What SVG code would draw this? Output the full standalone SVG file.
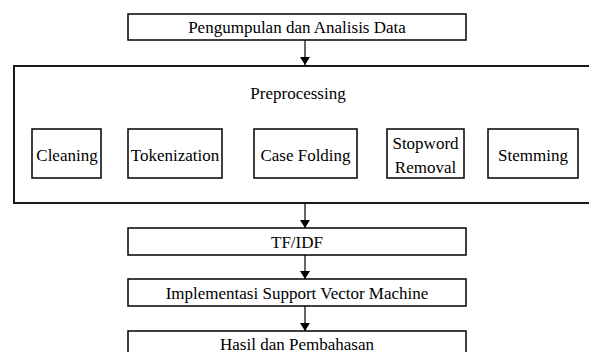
<svg xmlns="http://www.w3.org/2000/svg" width="589" height="352" viewBox="0 0 589 352">
<style>
.box{fill:#fff;stroke:#000;stroke-width:1.5}
.outer{fill:#fff;stroke:#1a1a1a;stroke-width:2}
text{font-family:"Liberation Serif","Times New Roman",serif;font-size:17px;fill:#000;text-anchor:middle}
.conn{stroke:#000;stroke-width:1.2;fill:none}
</style>
<defs>
<marker id="ah" viewBox="0 0 8 10" refX="8" refY="5" markerWidth="8" markerHeight="10" markerUnits="userSpaceOnUse" orient="auto-start-reverse">
<path d="M0,0 L8,5 L0,10 Z" fill="#000"/>
</marker>
</defs>
<rect width="589" height="352" fill="#fff"/>
<g id="pengumpulan">
<rect class="box" x="128" y="14" width="338" height="26"/>
<text x="297" y="33">Pengumpulan dan Analisis Data</text>
</g>
<g id="preprocessing">
<rect class="outer" x="14" y="66" width="590" height="137"/>
<text x="298" y="99">Preprocessing</text>
</g>
<g id="cleaning">
<rect class="box" x="32" y="129" width="69" height="49"/>
<text x="67" y="161">Cleaning</text>
</g>
<g id="tokenization">
<rect class="box" x="128" y="129" width="94" height="49"/>
<text x="175" y="161">Tokenization</text>
</g>
<g id="casefolding">
<rect class="box" x="254" y="129" width="103" height="49"/>
<text x="305.5" y="161">Case Folding</text>
</g>
<g id="stopword">
<rect class="box" x="387" y="129" width="77" height="49"/>
<text x="425.5" y="149">Stopword</text>
<text x="425.5" y="173">Removal</text>
</g>
<g id="stemming">
<rect class="box" x="488" y="129" width="90" height="49"/>
<text x="533" y="161">Stemming</text>
</g>
<g id="tfidf">
<rect class="box" x="128" y="228" width="338" height="27"/>
<text x="297" y="248">TF/IDF</text>
</g>
<g id="svm">
<rect class="box" x="128" y="279" width="338" height="27"/>
<text x="297" y="299">Implementasi Support Vector Machine</text>
</g>
<g id="hasil">
<rect class="box" x="128" y="331" width="338" height="27"/>
<text x="297" y="350">Hasil dan Pembahasan</text>
</g>
<g id="connectors">
<line class="conn" x1="305" y1="40" x2="305" y2="65" marker-end="url(#ah)"/>
<line class="conn" x1="305" y1="203" x2="305" y2="228" marker-end="url(#ah)"/>
<line class="conn" x1="305" y1="255" x2="305" y2="279" marker-end="url(#ah)"/>
<line class="conn" x1="305" y1="306" x2="305" y2="331" marker-end="url(#ah)"/>
</g>
</svg>
